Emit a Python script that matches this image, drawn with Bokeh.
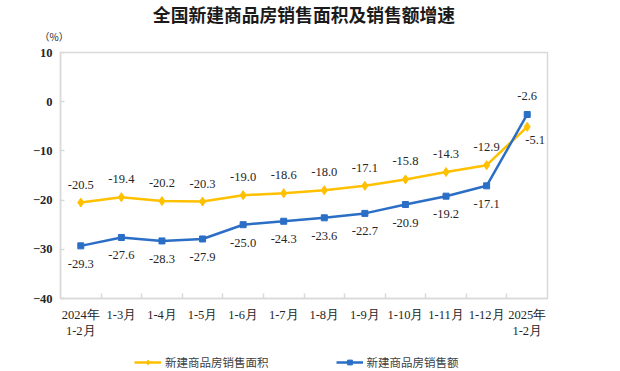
from bokeh.plotting import figure
from bokeh.models import Range1d, FixedTicker, Legend, LegendItem, Title, ColumnDataSource
from bokeh.layouts import column
from bokeh.embed import file_html
from bokeh.resources import INLINE
from bokeh.core.properties import value

categories = ["2024年\n1-2月", "1-3月", "1-4月", "1-5月", "1-6月", "1-7月", "1-8月",
              "1-9月", "1-10月", "1-11月", "1-12月", "2025年\n1-2月"]
area_growth = [-20.5, -19.4, -20.2, -20.3, -19.0, -18.6, -18.0, -17.1, -15.8, -14.3, -12.9, -5.1]
sales_growth = [-29.3, -27.6, -28.3, -27.9, -25.0, -24.3, -23.6, -22.7, -20.9, -19.2, -17.1, -2.6]
y_ticks = [-40, -30, -20, -10, 0, 10]
series_names = ["新建商品房销售面积", "新建商品房销售额"]

YELLOW = "#FFC000"
BLUE = "#2A6EC6"
GREY = "#D9D9D9"
TXT = "#262626"
NUM_FONT = "Liberation Serif"
CJK = "Noto Sans CJK SC"

n = len(categories)
xs = list(range(n))

p = figure(width=620, height=345, output_backend="svg", toolbar_location=None,
           x_range=Range1d(-0.5, n - 0.5), y_range=Range1d(y_ticks[0], y_ticks[-1]),
           min_border_left=60, min_border_right=73, min_border_top=52, min_border_bottom=47)

p.title.text = "全国新建商品房销售面积及销售额增速"
p.title.align = "center"
p.title.offset = -12
p.title.text_font = CJK
p.title.text_font_size = "17.8px"
p.title.text_font_style = "bold"
p.title.text_color = "#1a1a1a"
p.title.standoff = -16

unit_title = Title(text="（%）", align="left", offset=-21, text_font=CJK,
                   text_font_size="10px", text_font_style="normal", text_color=TXT, standoff=17)
p.add_layout(unit_title, "above")

p.xgrid.visible = False
p.ygrid.visible = False
p.outline_line_color = GREY
p.outline_line_width = 1.5
p.background_fill_color = "white"
p.border_fill_color = "white"

# x axis
xa = p.xaxis[0]
xa.ticker = FixedTicker(ticks=xs, minor_ticks=[i + 0.5 for i in xs[:-1]])
xa.major_label_overrides = {i: c for i, c in zip(xs, categories)}
xa.major_tick_line_color = None
xa.minor_tick_line_color = GREY
xa.minor_tick_line_width = 1.5
xa.minor_tick_in = 5
xa.minor_tick_out = 0
xa.axis_line_color = GREY
xa.axis_line_width = 1.5
xa.major_label_text_font = NUM_FONT
xa.major_label_text_font_size = "12.5px"
xa.major_label_text_color = TXT
xa.major_label_standoff = 3

ya = p.yaxis[0]
ya.ticker = FixedTicker(ticks=y_ticks)
ya.major_tick_line_color = GREY
ya.major_tick_line_width = 1.5
ya.major_tick_in = 4
ya.major_tick_out = 0
ya.minor_tick_line_color = None
ya.axis_line_color = GREY
ya.axis_line_width = 1.5
ya.major_label_text_font = NUM_FONT
ya.major_label_text_font_size = "12.5px"
ya.major_label_text_font_style = "bold"
ya.major_label_text_color = TXT
ya.major_label_standoff = 8

src = ColumnDataSource(dict(x=xs, area=area_growth, sales=sales_growth,
                            area_t=["%.1f" % v for v in area_growth],
                            sales_t=["%.1f" % v for v in sales_growth]))

p.line("x", "area", source=src, line_color=YELLOW, line_width=2.5)
p.scatter("x", "area", source=src, marker="diamond", size=9, fill_color=YELLOW, line_color=YELLOW)
p.line("x", "sales", source=src, line_color=BLUE, line_width=2.5)
p.scatter("x", "sales", source=src, marker="square", size=6, fill_color=BLUE, line_color=BLUE)

# label offsets (screen px): yellow above, blue below, last points adjusted
src.data["adx"] = [0] * (n - 1) + [8]
src.data["ady"] = [-18] * (n - 1) + [13]
src.data["sdx"] = [0] * n
src.data["sdy"] = [18] * (n - 1) + [-18]

for t, dx, dy, yk in [("area_t", "adx", "ady", "area"), ("sales_t", "sdx", "sdy", "sales")]:
    p.text(x="x", y=yk, text=t, source=src, x_offset=dx, y_offset=dy,
           text_align="center", text_baseline="middle",
           text_font=value(NUM_FONT), text_font_size="12.5px", text_color=TXT)

# legend strip below the chart (series renderers kept out of its view range)
lg = figure(width=620, height=26, output_backend="svg", toolbar_location=None,
            x_range=Range1d(100, 101), y_range=Range1d(100, 101), x_axis_type=None, y_axis_type=None,
            min_border=0, min_border_left=0, min_border_right=0, min_border_top=0, min_border_bottom=0)
lg.outline_line_color = None
lg.xgrid.visible = False
lg.ygrid.visible = False
lg.border_fill_color = "white"
r1 = [lg.line("x", "area", source=src, line_color=YELLOW, line_width=2.5),
      lg.scatter("x", "area", source=src, marker="diamond", size=9, fill_color=YELLOW, line_color=YELLOW)]
r2 = [lg.line("x", "sales", source=src, line_color=BLUE, line_width=2.5),
      lg.scatter("x", "sales", source=src, marker="square", size=6, fill_color=BLUE, line_color=BLUE)]
legend = Legend(items=[LegendItem(label=series_names[0], renderers=r1),
                       LegendItem(label=series_names[1], renderers=r2)],
                orientation="horizontal", location=(74, 1),
                glyph_width=27, glyph_height=12, label_standoff=4, spacing=67,
                label_text_font=CJK, label_text_font_size="11.5px", label_text_color="#404040",
                border_line_color=None, background_fill_alpha=0, margin=0, padding=2)
lg.add_layout(legend, "center")

layout = column(p, lg, spacing=0)
open("out.html", "w").write(file_html(layout, INLINE))
